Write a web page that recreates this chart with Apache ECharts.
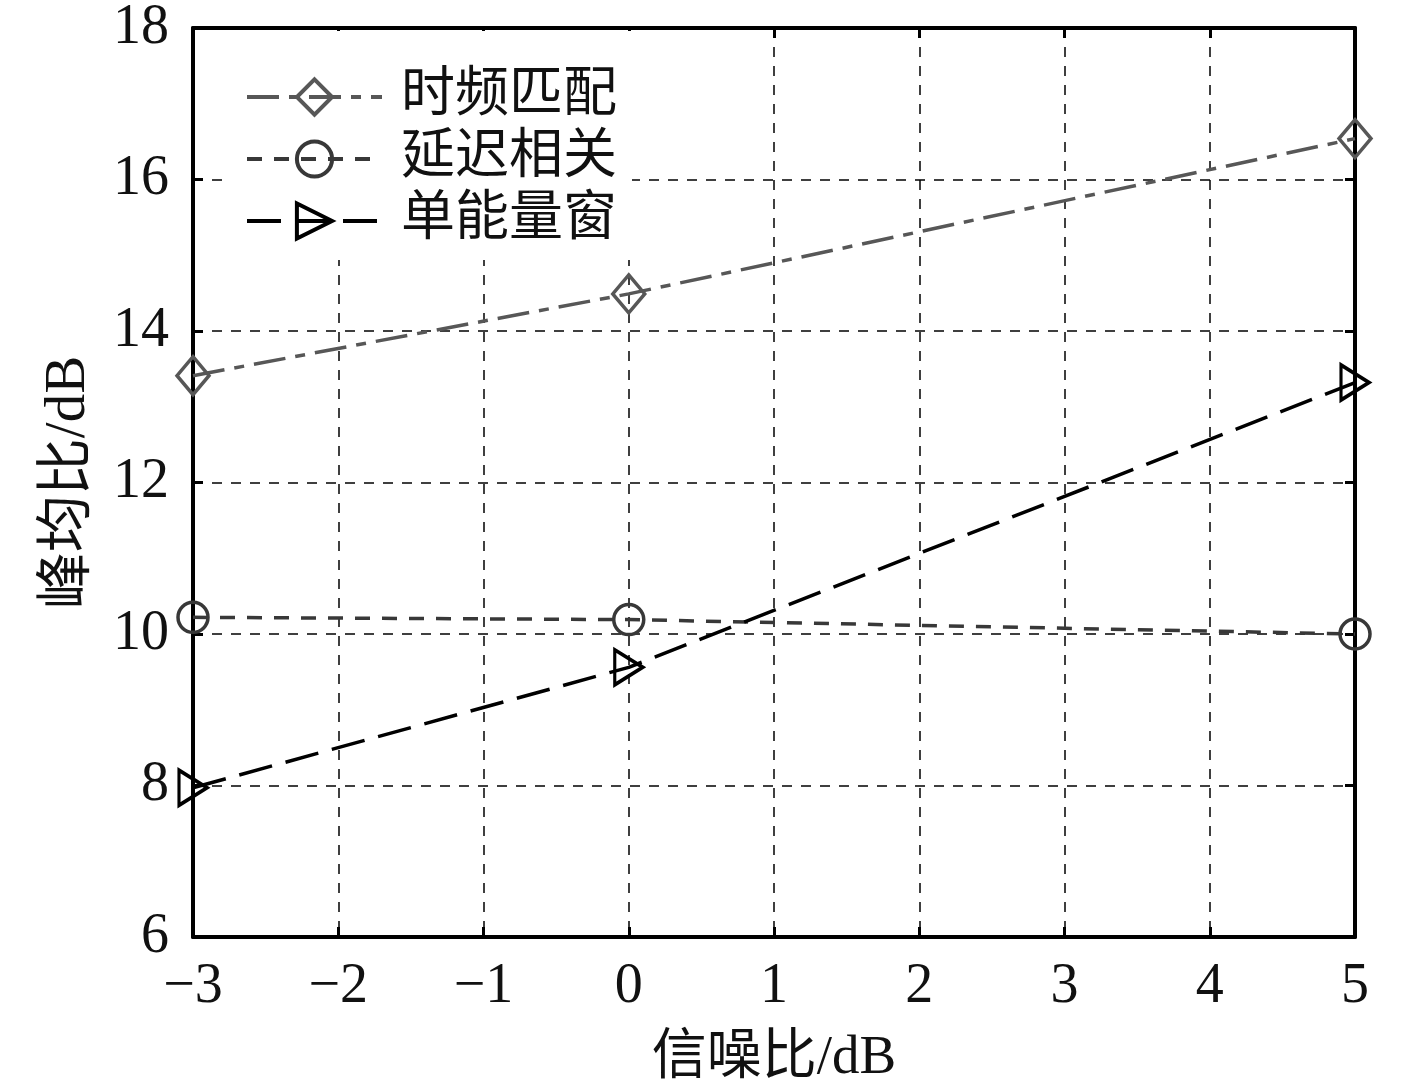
<!DOCTYPE html>
<html>
<head>
<meta charset="utf-8">
<script src="https://cdn.jsdelivr.net/npm/echarts@6/dist/echarts.min.js"></script>
<style>html,body{margin:0;padding:0;background:#fff}#c{width:1417px;height:1091px}</style>
</head>
<body>
<div id="c"></div>
<script>
const snr = [-3, 0, 5];
const seriesNames = ['时频匹配', '延迟相关', '单能量窗'];
const tfMatch = [13.41, 14.49, 16.54];
const delayCorr = [10.22, 10.19, 10.0];
const singleWin = [7.97, 9.56, 13.32];

const serif = '"Liberation Serif", "Times New Roman", "Noto Sans CJK SC", serif';
const cjk = '"Liberation Serif", "Noto Sans CJK SC", serif';
const pairs = arr => snr.map((x, i) => [x, arr[i]]);
const minus = v => String(v).replace('-', '\u2212');

const chart = echarts.init(document.getElementById('c'), null, {renderer: 'canvas'});
chart.setOption({
  backgroundColor: '#fff',
  animation: false,
  grid: {left: 193, right: 62, top: 28, bottom: 151, containLabel: false},
  legend: {
    orient: 'vertical',
    left: 222, top: 31,
    backgroundColor: '#fff',
    padding: [39, 15, 12, 23],
    itemWidth: 135, itemHeight: 44, itemGap: 8,
    lineStyle: {width: 4},
    itemStyle: {borderWidth: 4},
    textStyle: {fontFamily: cjk, fontSize: 54, color: '#111', lineHeight: 54, padding: [0, 0, 0, 14]},
    data: seriesNames
  },
  xAxis: [{
    type: 'value', min: -3, max: 5, interval: 1, position: 'bottom',
    axisLine: {show: true, onZero: false, lineStyle: {color: '#000', width: 4}},
    axisTick: {show: true, inside: true, length: 10, lineStyle: {color: '#000', width: 3}},
    axisLabel: {fontFamily: serif, fontSize: 56, color: '#111', margin: 22, formatter: minus},
    splitLine: {show: true, lineStyle: {color: '#000', width: 1.5, type: [10, 9]}},
    name: '信噪比/dB', nameLocation: 'middle', nameGap: 94,
    nameTextStyle: {fontFamily: cjk, fontSize: 55, color: '#111'}
  }, {
    type: 'value', min: -3, max: 5, interval: 1, position: 'top',
    axisLine: {show: true, onZero: false, lineStyle: {color: '#000', width: 4}},
    axisTick: {show: true, inside: true, length: 10, lineStyle: {color: '#000', width: 3}},
    axisLabel: {show: false}, splitLine: {show: false}
  }],
  yAxis: [{
    type: 'value', min: 6, max: 18, interval: 2, position: 'left',
    axisLine: {show: true, onZero: false, lineStyle: {color: '#000', width: 4}},
    axisTick: {show: true, inside: true, length: 10, lineStyle: {color: '#000', width: 3}},
    axisLabel: {fontFamily: serif, fontSize: 56, color: '#111', margin: 24},
    splitLine: {show: true, lineStyle: {color: '#000', width: 1.5, type: [10, 9]}},
    name: '峰均比/dB', nameLocation: 'middle', nameGap: 95, nameRotate: 90,
    nameTextStyle: {fontFamily: cjk, fontSize: 57, color: '#111'}
  }, {
    type: 'value', min: 6, max: 18, interval: 2, position: 'right',
    axisLine: {show: true, onZero: false, lineStyle: {color: '#000', width: 4}},
    axisTick: {show: true, inside: true, length: 10, lineStyle: {color: '#000', width: 3}},
    axisLabel: {show: false}, splitLine: {show: false}
  }],
  series: [{
    name: seriesNames[0], type: 'line', data: pairs(tfMatch),
    symbol: 'diamond', symbolSize: [32, 38],
    lineStyle: {color: '#575757', width: 3.5, type: [32, 10, 10, 10]},
    itemStyle: {color: 'rgba(255,255,255,0)', borderColor: '#575757', borderWidth: 3.5}
  }, {
    name: seriesNames[1], type: 'line', data: pairs(delayCorr),
    symbol: 'circle', symbolSize: 30,
    lineStyle: {color: '#383838', width: 3.5, type: [15, 12]},
    itemStyle: {color: 'rgba(255,255,255,0)', borderColor: '#383838', borderWidth: 3.5}
  }, {
    name: seriesNames[2], type: 'line', data: pairs(singleWin),
    symbol: 'triangle', symbolSize: [35, 28], symbolRotate: -90,
    lineStyle: {color: '#000', width: 3.5, type: [34, 14]},
    itemStyle: {color: 'rgba(255,255,255,0)', borderColor: '#000', borderWidth: 3.5}
  }]
});
</script>
</body>
</html>
